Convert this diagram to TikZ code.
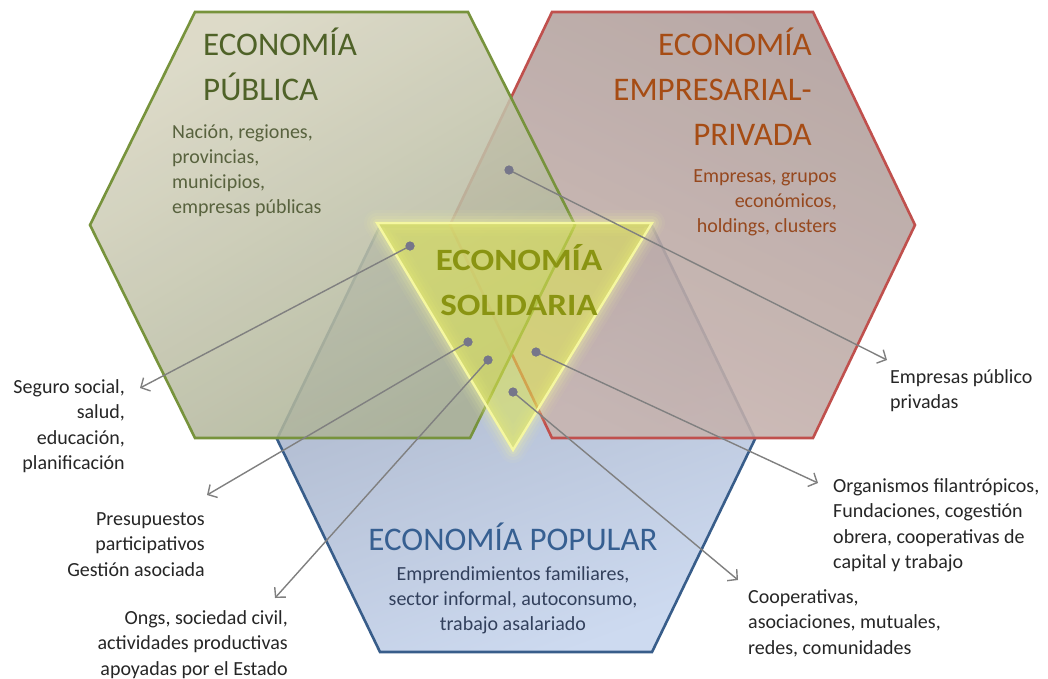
\documentclass[tikz,border=0pt]{standalone}
\usepackage{fontspec}
\setmainfont{Carlito}
\usetikzlibrary{arrows.meta}
\definecolor{gborder}{RGB}{119,147,60}
\definecolor{rborder}{RGB}{192,80,77}
\definecolor{bborder}{RGB}{56,93,138}
\definecolor{gtitle}{RGB}{79,98,40}
\definecolor{gsub}{RGB}{88,98,62}
\definecolor{rtitle}{RGB}{166,76,20}
\definecolor{rsub}{RGB}{150,72,30}
\definecolor{btitle}{RGB}{54,95,145}
\definecolor{bsub}{RGB}{50,64,92}
\definecolor{stitle}{RGB}{138,148,18}
\definecolor{glight}{RGB}{216,213,192}
\definecolor{gdark}{RGB}{170,176,148}
\definecolor{rlight}{RGB}{200,180,175}
\definecolor{rdark}{RGB}{176,158,155}
\definecolor{blight}{RGB}{205,218,240}
\definecolor{bdark}{RGB}{168,178,198}
\definecolor{trifill}{RGB}{225,232,80}
\definecolor{triedge}{RGB}{245,247,160}
\definecolor{arrowgray}{RGB}{128,128,128}
\definecolor{dotgray}{RGB}{118,118,138}
\begin{document}
\begin{tikzpicture}[x=1pt,y=-1pt,
  hexedge/.style={line width=2.6pt, line join=miter},
  bigtitle/.style={inner sep=0pt, font=\fontsize{33}{45}\selectfont},
  subtext/.style={inner sep=0pt, font=\fontsize{20}{25}\selectfont},
  outlabel/.style={inner sep=0pt, text=black!85, font=\fontsize{20}{25.5}\selectfont},
  conn/.style={draw=arrowgray, line width=1.4pt, -{Straight Barb[length=7pt,width=15pt,line width=1.4pt]}},
  dotnode/.style={circle, fill=dotgray, inner sep=0pt, minimum size=9pt}]
\useasboundingbox (0,0) rectangle (1048,678);
\fill[white] (0,0) rectangle (1048,678);

% Blue hexagon (Economia popular)
\path[shade, top color=bdark, bottom color=blight, shading angle=20]
  (380,226) -- (652,226) -- (755,439) -- (652,652) -- (380,652) -- (277,439) -- cycle;
\draw[hexedge, draw=bborder]
  (380,226) -- (652,226) -- (755,439) -- (652,652) -- (380,652) -- (277,439) -- cycle;

% Red hexagon (Economia empresarial-privada)
\path[shade, top color=rdark, bottom color=rlight, shading angle=-25, fill opacity=0.88]
  (552,12) -- (813,12) -- (915,225) -- (813,438) -- (552,438) -- (450,225) -- cycle;
\draw[hexedge, draw=rborder]
  (552,12) -- (813,12) -- (915,225) -- (813,438) -- (552,438) -- (450,225) -- cycle;

% Green hexagon (Economia publica)
\path[shade, top color=glight, bottom color=gdark, shading angle=30, fill opacity=0.86]
  (195,12) -- (468,12) -- (575,225) -- (470,438) -- (195,438) -- (90,225) -- cycle;
\draw[hexedge, draw=gborder]
  (195,12) -- (468,12) -- (575,225) -- (470,438) -- (195,438) -- (90,225) -- cycle;

% Triangle glow
\foreach \w/\o in {26/0.06, 20/0.08, 14/0.12, 8/0.18}{
  \draw[line width=\w pt, draw=triedge, draw opacity=\o, line join=round]
    (377,223) -- (652,223) -- (513,450) -- cycle;
}
\fill[trifill, fill opacity=0.55] (377,223) -- (652,223) -- (513,450) -- cycle;
\draw[line width=2.4pt, draw=triedge, line join=miter] (377,223) -- (652,223) -- (513,450) -- cycle;

% Titles (base anchor = baseline of the last line)
\node[bigtitle, text=gtitle, anchor=base west, align=left] (tpub) at (203,100) {ECONOMÍA\\PÚBLICA};
\node[subtext, text=gsub, anchor=base west, align=left] (spub) at (172,213)
  {Nación, regiones,\\provincias,\\municipios,\\empresas públicas};

\node[bigtitle, text=rtitle, anchor=base east, align=right] (tpri) at (812,145) {ECONOMÍA\\EMPRESARIAL-\\PRIVADA};
\node[subtext, text=rsub, anchor=base east, align=right] (spri) at (837,232)
  {Empresas, grupos\\económicos,\\holdings, clusters};

\node[inner sep=0pt, text=stitle, anchor=base, align=center,
  font=\fontsize{31}{45}\selectfont\bfseries\addfontfeature{FakeStretch=1.13}] (tsol) at (519,315) {ECONOMÍA\\SOLIDARIA};

\node[bigtitle, text=btitle, anchor=base] (tpop) at (513,550) {ECONOMÍA POPULAR};
\node[subtext, text=bsub, anchor=base, align=center] (spop) at (513,630)
  {Emprendimientos familiares,\\sector informal, autoconsumo,\\trabajo asalariado};

% Outside labels
\node[outlabel, anchor=base east, align=right] (l1) at (125,469.5) {Seguro social,\\salud,\\educación,\\planificación};
\node[outlabel, anchor=base east, align=right] (l2) at (205,576) {Presupuestos\\participativos\\Gestión asociada};
\node[outlabel, anchor=base east, align=right] (l3) at (288,675) {Ongs, sociedad civil,\\actividades productivas\\apoyadas por el Estado};
\node[outlabel, anchor=base west, align=left] (l4) at (890,408.5) {Empresas público\\privadas};
\node[outlabel, anchor=base west, align=left] (l5) at (833,568.5) {Organismos filantrópicos,\\Fundaciones, cogestión\\obrera, cooperativas de\\capital y trabajo};
\node[outlabel, anchor=base west, align=left] (l6) at (748,654) {Cooperativas,\\asociaciones, mutuales,\\redes, comunidades};

% Dots and arrow tips
\node[dotnode] (d1) at (410,246) {};
\node[dotnode] (d2) at (509,170) {};
\node[dotnode] (d3) at (468,342) {};
\node[dotnode] (d4) at (488,360) {};
\node[dotnode] (d5) at (536,352) {};
\node[dotnode] (d6) at (513,392) {};
\coordinate (t1) at (140,388);
\coordinate (t2) at (887,360);
\coordinate (t3) at (207,495);
\coordinate (t4) at (275,598);
\coordinate (t5) at (818,483);
\coordinate (t6) at (738,580);

\draw[conn] (d1.center) -- (t1);
\draw[conn] (d2.center) -- (t2);
\draw[conn] (d3.center) -- (t3);
\draw[conn] (d4.center) -- (t4);
\draw[conn] (d5.center) -- (t5);
\draw[conn] (d6.center) -- (t6);
\node[dotnode] at (d1) {};
\node[dotnode] at (d2) {};
\node[dotnode] at (d3) {};
\node[dotnode] at (d4) {};
\node[dotnode] at (d5) {};
\node[dotnode] at (d6) {};
\end{tikzpicture}
\end{document}
